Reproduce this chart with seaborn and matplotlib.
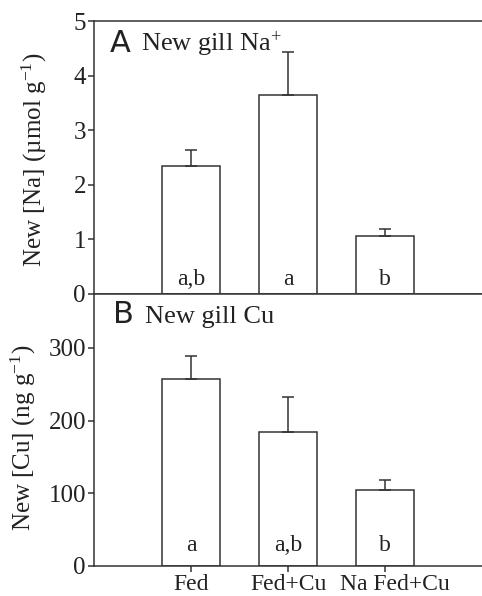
import matplotlib
matplotlib.use("Agg")
import matplotlib.pyplot as plt
import matplotlib.transforms as mtransforms
import seaborn as sns
import pandas as pd

categories = ["Fed", "Fed+Cu", "Na Fed+Cu"]
na_values = [2.34, 3.65, 1.06]
na_err = [0.29, 0.79, 0.13]
na_letters = ["a,b", "a", "b"]
cu_values = [258, 185, 104]
cu_err = [31, 48, 15]
cu_letters = ["a", "a,b", "b"]

sns.set_style("ticks")
plt.rcParams["font.family"] = ["Liberation Serif", "DejaVu Serif"]
plt.rcParams["mathtext.fontset"] = "custom"
plt.rcParams["mathtext.rm"] = "Liberation Serif"
plt.rcParams["mathtext.it"] = "Liberation Serif:italic"

ink = "#333333"
txt = "#222222"
fig = plt.figure(figsize=(4.82, 5.96), dpi=100)
left = 94.3 / 482
ax1 = fig.add_axes([left, 1 - 293.5 / 596, 1 - left, (293.5 - 21.3) / 596])
ax2 = fig.add_axes([left, 1 - 566 / 596, 1 - left, (566 - 293.5) / 596])

def panel(ax, vals, errs, letters, ylim, yticks, ylabel, letter_y):
    df = pd.DataFrame({"cat": categories, "val": vals})
    sns.barplot(data=df, x="cat", y="val", ax=ax, color="white",
                edgecolor=ink, linewidth=1.1, width=0.6, errorbar=None,
                saturation=1)
    ax.errorbar(range(len(vals)), vals, yerr=[[0] * len(vals), errs],
                fmt="none", ecolor=ink, elinewidth=1.1, capsize=4,
                capthick=1.1)
    for i, t in enumerate(letters):
        ax.text(i, letter_y, t, ha="center", va="baseline", fontsize=17,
                color=txt)
    ax.set_xlim(-1, 3)
    ax.set_ylim(*ylim)
    ax.set_yticks(yticks)
    ax.set_ylabel(ylabel, fontsize=18, color=txt)
    ax.set_xlabel("")
    for s in ["top", "bottom", "left"]:
        ax.spines[s].set_visible(True)
        ax.spines[s].set_color(ink)
        ax.spines[s].set_linewidth(1.1)
    ax.spines["right"].set_visible(False)
    ax.tick_params(axis="y", labelsize=18, length=4, width=1.1,
                   color=ink, labelcolor=txt, pad=2)

panel(ax1, na_values, na_err, na_letters, (0, 5), [0, 1, 2, 3, 4, 5],
      "New [Na] (\u00b5mol g$^{-1}$)", 0.15)
panel(ax2, cu_values, cu_err, cu_letters, (0, 375), [0, 100, 200, 300],
      r"New [Cu] (ng g$^{-1}$)", 20)

ax1.tick_params(axis="x", bottom=False, labelbottom=False)
ax2.tick_params(axis="x", labelsize=17, length=4, width=1.1, color=ink,
                labelcolor=txt, pad=2)

# last tick label sits a little right of its tick in the reference
lbl = ax2.get_xticklabels()[-1]
lbl.set_transform(lbl.get_transform() +
                  mtransforms.ScaledTranslation(0.10, 0, fig.dpi_scale_trans))

ax1.text(-0.84, 4.44, "A", fontsize=22, family="DejaVu Sans",
         va="baseline", color=txt)
ax1.text(-0.514, 4.44, r"New gill Na$^{+}$", fontsize=19, va="baseline",
         color=txt)
ax2.text(-0.81, 335, "B", fontsize=22, family="DejaVu Sans",
         va="baseline", color=txt)
ax2.text(-0.48, 335, "New gill Cu", fontsize=19, va="baseline",
         color=txt)

ax1.yaxis.set_label_coords(-0.117, 0.49)
ax2.yaxis.set_label_coords(-0.145, 0.47)

fig.savefig("out.png", dpi=100)
